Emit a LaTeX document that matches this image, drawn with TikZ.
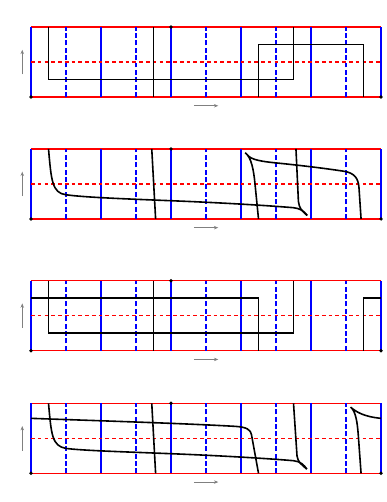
\documentclass[tikz,border=0pt]{standalone}
\usetikzlibrary{arrows.meta}
\tikzset{
  rim/.style={color=red, line width=1pt},
  midline/.style={color=red, dash pattern=on 3pt off 2.5pt, line width=1pt},
  solidv/.style={color=blue, line width=1pt},
  dashv/.style={color=blue, dash pattern=on 4pt off 2pt, line width=1pt},
  curve/.style={color=black, line width=1.3pt, line join=miter},
  guide/.style={color=gray, line width=0.6pt, -{Stealth[length=3.5pt,width=2.8pt]}},
  dot/.style={circle, fill=black, inner sep=0pt, minimum size=3pt}
}
\newcommand\panelgrid[1]{%
  \draw[rim] (0,0) -- (10,0);
  \draw[rim] (0,2) -- (10,2);
  \foreach \x in {0,2,...,10} \draw[solidv] (\x,0) -- (\x,2);
  \foreach \x in {1,3,...,9} \draw[dashv] (\x,0) -- (\x,2);
  \draw[midline] (0,1) -- (10,1);
  \node[dot] (#1bl) at (0,0) {};
  \node[dot] (#1br) at (10,0) {};
  \node[dot] (#1tc) at (4,2) {};
  \coordinate (#1va) at (-0.25,0.65);
  \coordinate (#1vb) at (-0.25,1.35);
  \coordinate (#1ha) at (4.65,-0.25);
  \coordinate (#1hb) at (5.35,-0.25);
  \draw[guide] (#1va) -- (#1vb);
  \draw[guide] (#1ha) -- (#1hb);
}
\begin{document}
\begin{tikzpicture}
\useasboundingbox (0,0) rectangle (11.029,14.343);

% Panel 1
\begin{scope}[shift={(0.886,11.571)}]
  \panelgrid{p}
  \draw[curve] (0.5,2) -- (0.5,0.5) -- (7.5,0.5) -- (7.5,2);
  \draw[curve] (3.5,0) -- (3.5,2);
  \draw[curve] (6.5,0) -- (6.5,1.5) -- (9.5,1.5) -- (9.5,0);
\end{scope}

% Panel 2
\begin{scope}[shift={(0.886,8.088)}]
  \panelgrid{q}
  \draw[curve] (0.5,2) .. controls (0.58,1.1) and (0.6,0.74) .. (1.0,0.69)
     .. controls (1.5,0.62) and (2.5,0.58) .. (4,0.52)
     .. controls (5.5,0.46) and (6.8,0.38) .. (7.5,0.32)
     .. controls (7.7,0.30) and (7.8,0.22) .. (7.89,0.1);
  \draw[curve] (7.57,2) -- (7.64,0.5) .. controls (7.66,0.3) and (7.75,0.22) .. (7.89,0.1);
  \draw[curve] (3.45,2) -- (3.56,0);
  \draw[curve] (6.5,0) -- (6.4,1.0) .. controls (6.36,1.4) and (6.3,1.75) .. (6.12,1.89)
     .. controls (6.25,1.72) and (6.4,1.66) .. (7.0,1.6)
     .. controls (7.8,1.52) and (8.5,1.43) .. (8.95,1.36)
     .. controls (9.25,1.31) and (9.35,1.15) .. (9.37,0.9) -- (9.43,0);
\end{scope}

% Panel 3
\begin{scope}[shift={(0.886,4.323)}]
  \panelgrid{r}
  \draw[curve] (0.5,2) -- (0.5,0.5) -- (7.5,0.5) -- (7.5,2);
  \draw[curve] (3.5,0) -- (3.5,2);
  \draw[curve] (0,1.5) -- (6.5,1.5) -- (6.5,0);
  \draw[curve] (9.5,0) -- (9.5,1.5) -- (10,1.5);
\end{scope}

% Panel 4
\begin{scope}[shift={(0.886,0.82)}]
  \panelgrid{s}
  \draw[curve] (0.5,2) .. controls (0.58,1.1) and (0.6,0.78) .. (1.0,0.71)
     .. controls (1.5,0.65) and (2.5,0.62) .. (4,0.56)
     .. controls (5.5,0.5) and (6.8,0.42) .. (7.5,0.36)
     .. controls (7.7,0.34) and (7.8,0.24) .. (7.88,0.12);
  \draw[curve] (7.5,2) -- (7.6,0.5) .. controls (7.62,0.32) and (7.74,0.24) .. (7.88,0.12);
  \draw[curve] (3.45,2) -- (3.56,0);
  \draw[curve] (0,1.57) .. controls (2,1.5) and (4.5,1.42) .. (5.85,1.34)
     .. controls (6.15,1.32) and (6.28,1.25) .. (6.3,1.1) -- (6.5,0);
  \draw[curve] (9.43,0) -- (9.35,1.1) .. controls (9.32,1.5) and (9.27,1.78) .. (9.13,1.89)
     .. controls (9.3,1.75) and (9.5,1.62) .. (10,1.57);
\end{scope}
\end{tikzpicture}
\end{document}
